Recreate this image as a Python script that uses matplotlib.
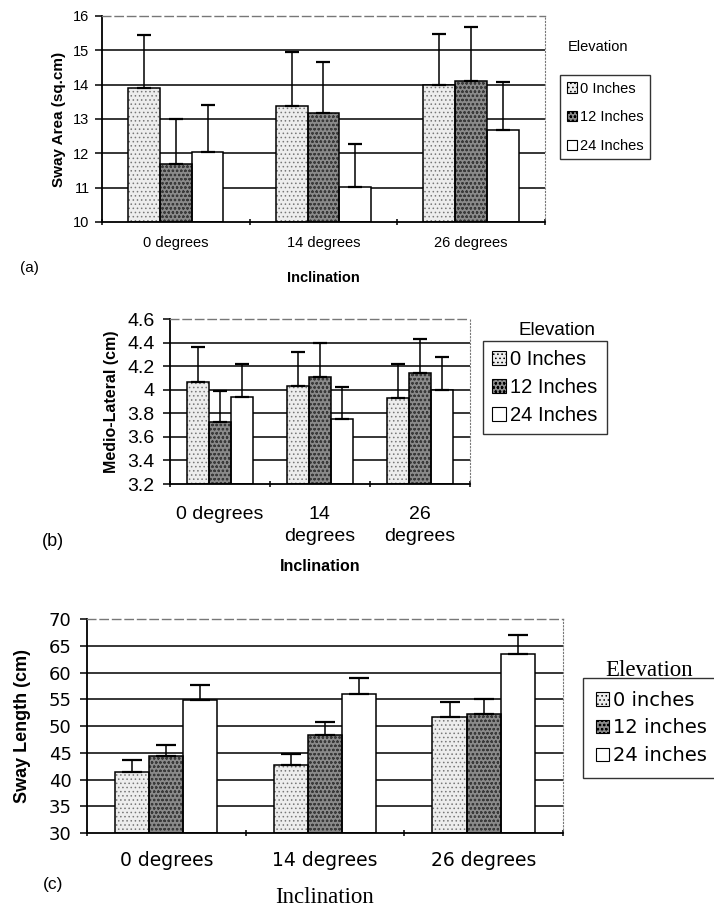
import numpy as np
import matplotlib.pyplot as plt
from matplotlib.patches import Patch

plt.rcParams['font.family'] = ['Liberation Sans', 'DejaVu Sans']
plt.rcParams['hatch.linewidth'] = 0.6

# ---- data ----
inclinations = ['0 degrees', '14 degrees', '26 degrees']
inclinations_b = ['0 degrees', '14\ndegrees', '26\ndegrees']

# (a) sway area (sq.cm)
area_0in = [13.90, 13.37, 13.98]
area_12in = [11.69, 13.16, 14.10]
area_24in = [12.05, 11.02, 12.68]
area_0in_err = [1.55, 1.57, 1.51]
area_12in_err = [1.31, 1.51, 1.58]
area_24in_err = [1.37, 1.25, 1.41]

# (b) medio-lateral (cm)
ml_0in = [4.07, 4.03, 3.93]
ml_12in = [3.73, 4.11, 4.14]
ml_24in = [3.94, 3.75, 4.00]
ml_0in_err = [0.29, 0.29, 0.29]
ml_12in_err = [0.26, 0.29, 0.29]
ml_24in_err = [0.28, 0.27, 0.28]

# (c) sway length (cm)
len_0in = [41.4, 42.7, 51.75]
len_12in = [44.4, 48.25, 52.2]
len_24in = [54.8, 55.9, 63.5]
len_0in_err = [2.2, 2.05, 2.65]
len_12in_err = [2.1, 2.5, 2.9]
len_24in_err = [2.8, 3.0, 3.5]

SERIF = ['Liberation Serif', 'DejaVu Serif']
WIDE = ['DejaVu Sans']

# 三種高度的填充樣式
styles = [dict(fc='#ededed', hc='#777777', hatch='....'),
          dict(fc='#8a8a8a', hc='#3a3a3a', hatch='oooo'),
          dict(fc='white', hc='white', hatch=None)]


def draw_panel(ax, vals, errs, ylim, yticks, width, capsize):
    x = np.arange(3)
    offs = [-width, 0, width]
    for i in range(3):
        st = styles[i]
        h = np.array(vals[i]) - ylim[0]
        ax.bar(x + offs[i], h, width, bottom=ylim[0],
               color=st['fc'], edgecolor=st['hc'], hatch=st['hatch'], lw=0, zorder=2)
        ax.bar(x + offs[i], h, width, bottom=ylim[0],
               fill=False, edgecolor='black', lw=1.1, zorder=3)
        ax.errorbar(x + offs[i], vals[i], yerr=[np.zeros(3), errs[i]], fmt='none',
                    ecolor='black', elinewidth=1.1, capsize=capsize, capthick=1.6, zorder=4)
    for v in yticks[1:-1]:
        ax.axhline(v, color='black', lw=1.1, zorder=1)
    ax.set_xlim(-0.5, 2.5)
    ax.set_ylim(*ylim)
    ax.set_yticks(yticks)
    ax.set_yticklabels([f'{v:g}' for v in yticks])
    ax.set_xticks(x)
    ax.set_xticks([-0.5, 0.5, 1.5, 2.5], minor=True)
    ax.tick_params(axis='x', which='major', length=0)
    ax.tick_params(axis='x', which='minor', length=5, direction='inout', width=1.1)
    ax.tick_params(axis='y', length=5, width=1.1)
    ax.spines['left'].set_linewidth(1.3)
    ax.spines['bottom'].set_linewidth(1.3)
    ax.spines['top'].set_color('#777777')
    ax.spines['top'].set_linestyle((0, (6, 3)))
    ax.spines['top'].set_linewidth(1.0)
    ax.spines['right'].set_color('#777777')
    ax.spines['right'].set_linestyle((0, (1, 2)))


def draw_legend(fig, labels, loc, prop, spacing, bpad, title_xy, title_kw):
    handles = [Patch(facecolor=st['fc'], edgecolor='black', lw=0.8, hatch=st['hatch'])
               for st in styles]
    leg = fig.legend(handles, labels, loc='upper left', bbox_to_anchor=loc,
                     prop=prop, frameon=True, fancybox=False,
                     edgecolor='black', handlelength=0.7, handleheight=0.7,
                     handletextpad=0.2, borderpad=bpad, labelspacing=spacing,
                     borderaxespad=0)
    leg.get_frame().set_linewidth(1.0)
    fig.text(title_xy[0], title_xy[1], 'Elevation', **title_kw)


fig = plt.figure(figsize=(7.14, 9.09), dpi=100)

# ---- (a) ----
ax_a = fig.add_axes([0.143, 0.7558, 0.620, 0.2266])
draw_panel(ax_a, [area_0in, area_12in, area_24in],
           [area_0in_err, area_12in_err, area_24in_err],
           (10, 16), [10, 11, 12, 13, 14, 15, 16], 0.215, 5)
ax_a.set_xticklabels(inclinations, fontsize=10.5)
ax_a.tick_params(axis='x', which='major', pad=10)
ax_a.tick_params(axis='y', labelsize=10.5, pad=4)
ax_a.set_ylabel('Sway Area (sq.cm)', fontsize=11, fontweight='bold', labelpad=5)
ax_a.set_xlabel('Inclination', fontsize=10.5, fontweight='bold', labelpad=15)
fig.text(0.028, 1 - 268 / 909, '(a)', fontsize=11, va='center')
draw_legend(fig, ['0 Inches', '12 Inches', '24 Inches'], (560 / 714, 1 - 75 / 909),
            dict(size=10.5), 1.0, 0.45,
            (568 / 714, 1 - 47 / 909), dict(fontsize=10.5, va='center'))

# ---- (b) ----
ax_b = fig.add_axes([0.238, 0.4675, 0.420, 0.1815])
draw_panel(ax_b, [ml_0in, ml_12in, ml_24in],
           [ml_0in_err, ml_12in_err, ml_24in_err],
           (3.2, 4.6), [3.2, 3.4, 3.6, 3.8, 4.0, 4.2, 4.4, 4.6], 0.222, 5)
ax_b.set_xticklabels(inclinations_b, fontsize=14, linespacing=1.4)
ax_b.tick_params(axis='x', which='major', pad=16)
ax_b.tick_params(axis='y', labelsize=14, pad=6)
ax_b.set_ylabel('Medio-Lateral (cm)', fontsize=11.5, fontweight='bold', labelpad=6)
ax_b.set_xlabel('Inclination', fontsize=11.5, fontweight='bold', labelpad=10)
fig.text(0.058, 1 - 542 / 909, '(b)', fontsize=13, va='center')
draw_legend(fig, ['0 Inches', '12 Inches', '24 Inches'], (483 / 714, 1 - 341 / 909),
            dict(size=14.5), 0.45, 0.45,
            (518 / 714, 1 - 331 / 909), dict(fontsize=13.5, va='center'))

# ---- (c) ----
ax_c = fig.add_axes([0.1218, 0.0836, 0.6667, 0.2354])
draw_panel(ax_c, [len_0in, len_12in, len_24in],
           [len_0in_err, len_12in_err, len_24in_err],
           (30, 70), [30, 35, 40, 45, 50, 55, 60, 65, 70], 0.215, 7)
ax_c.set_xticklabels(inclinations, fontsize=13.5, family=WIDE)
ax_c.tick_params(axis='x', which='major', pad=13)
ax_c.tick_params(axis='y', labelsize=13, pad=6)
for t in ax_c.get_yticklabels():
    t.set_family(WIDE)
ax_c.set_ylabel('Sway Length (cm)', fontsize=13, fontweight='bold', labelpad=13)
ax_c.set_xlabel('Inclination', fontsize=16.5, family=SERIF, labelpad=12)
fig.text(0.06, 1 - 885 / 909, '(c)', fontsize=12.5, va='center')
draw_legend(fig, ['0 inches', '12 inches', '24 inches'], (583 / 714, 1 - 678 / 909),
            dict(size=14, family=WIDE), 0.45, 0.65,
            (605 / 714, 1 - 670 / 909), dict(fontsize=16.5, va='center', family=SERIF))

fig.savefig('out.png', dpi=100)
